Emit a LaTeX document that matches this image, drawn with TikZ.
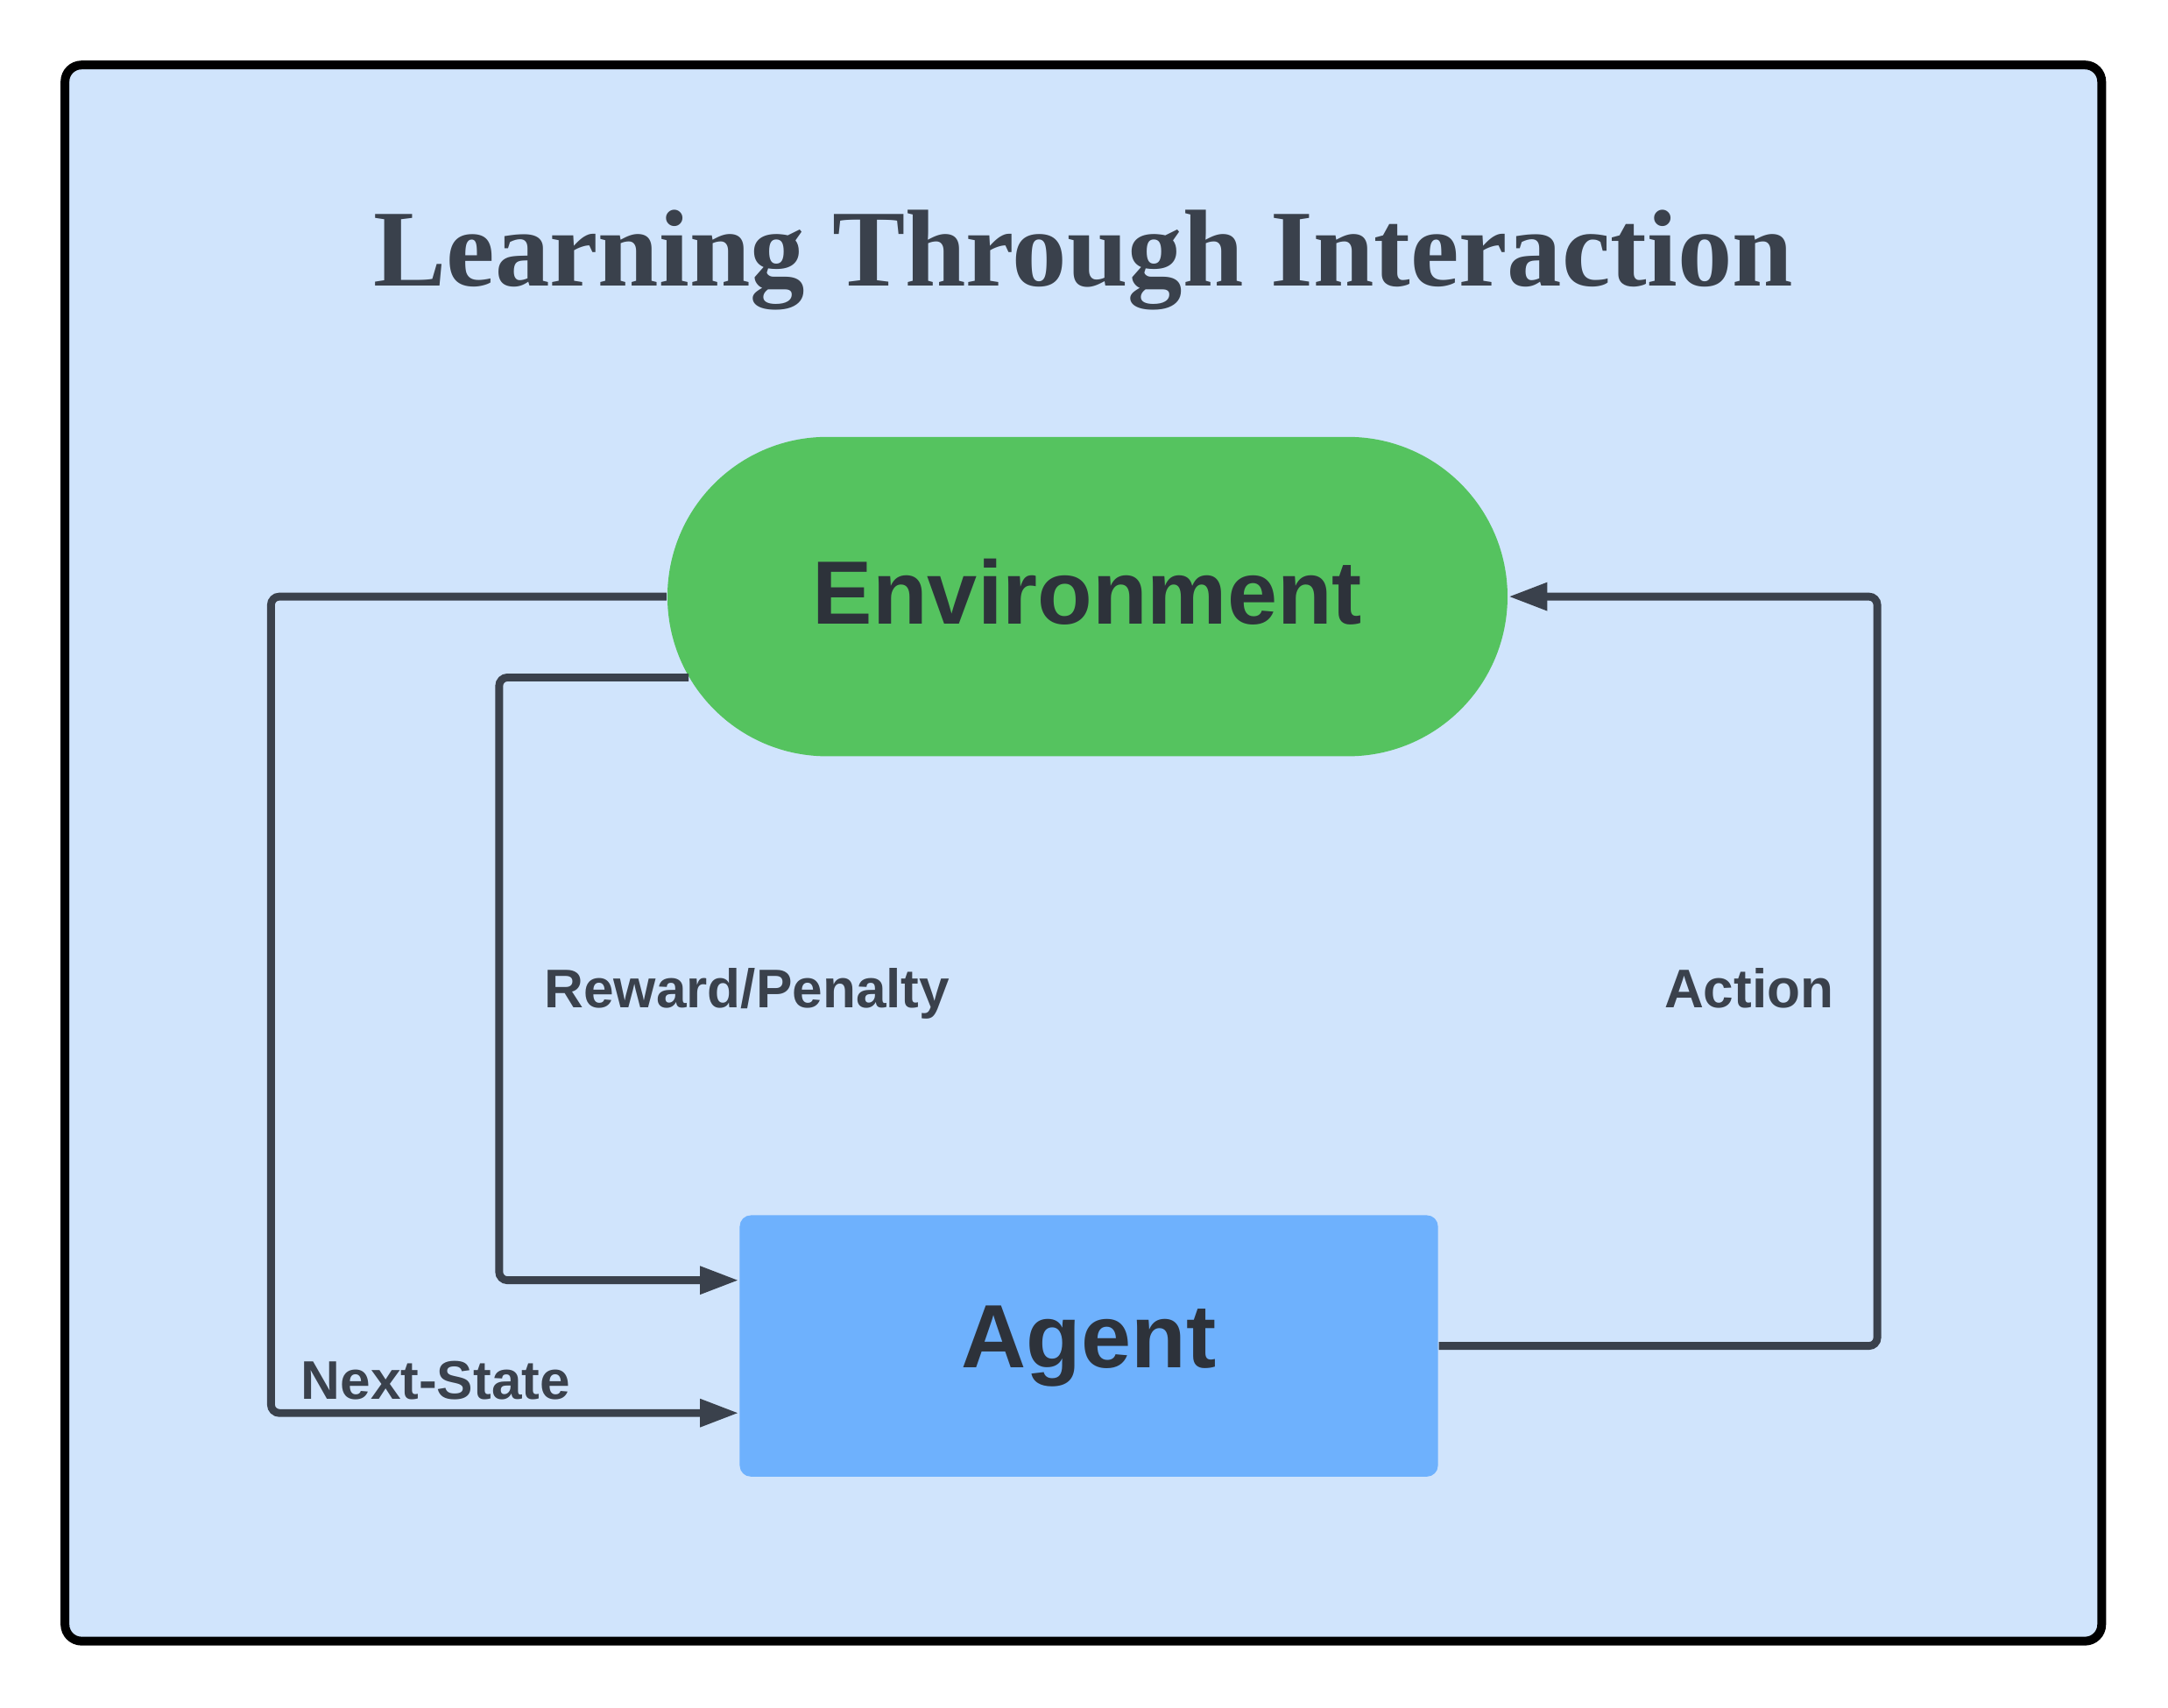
\documentclass[tikz,border=0pt]{standalone}
\usepackage{fontspec}
\setmainfont{Liberation Serif}
\setsansfont{Liberation Sans}
\usepackage{tikz}
\usetikzlibrary{arrows.meta,shapes.misc}
\definecolor{framebg}{HTML}{D0E4FC}
\definecolor{envgreen}{HTML}{55C35F}
\definecolor{agentblue}{HTML}{6EB1FD}
\definecolor{linegray}{HTML}{3A414C}
\definecolor{textgray}{HTML}{2D323A}

\begin{document}
\begin{tikzpicture}[>={Triangle[length=2.8mm,width=1.9mm]},
  flow/.style={->,draw=linegray,line width=1.6pt,rounded corners=0.6mm},
  env node/.style={rounded rectangle,fill=envgreen,minimum width=6.31cm,minimum height=2.31cm,
    text=textgray,font=\sffamily\bfseries\fontsize{18.5}{22}\selectfont},
  agent node/.style={rectangle,rounded corners=0.8mm,fill=agentblue,minimum width=5.05cm,minimum height=1.89cm,
    text=textgray,font=\sffamily\bfseries\fontsize{18.5}{22}\selectfont},
  edge label/.style={anchor=base west,inner sep=0pt,text=linegray,font=\sffamily\bfseries\fontsize{11.2}{13}\selectfont}]

  \useasboundingbox (0,0) rectangle (15.68,-12.35);
  \draw[line width=1.8pt,fill=framebg,rounded corners=1.2mm] (0.47,-0.47) rectangle (15.20,-11.87);

  \node[anchor=base,text=linegray,font=\bfseries\fontsize{22.5}{27}\selectfont] (title) at (7.835,-2.07) {Learning Through Interaction};

  \node[env node] (env) at (7.865,-4.315) {\raisebox{0.7mm}{Environment}};
  \node[agent node] (agent) at (7.875,-9.735) {\raisebox{0.6mm}{Agent}};

  % loops between the two
  \draw[flow] (env.west) -- ++(-2.86,0) |- ([yshift=-4.85mm]agent.west);
  \draw[flow] ([xshift=1.6mm,yshift=-5.85mm]env.west) -- ++(-1.37,0) |- ([yshift=4.75mm]agent.west);
  \draw[flow] (agent.east) -- ++(3.17,0) |- (env.east);

  \node[edge label] (reward) at (3.93,-7.29) {Reward/Penalty};
  \node[edge label] (action) at (12.03,-7.29) {Action};
  \node[edge label] (next) at (2.17,-10.12) {Next-State};
\end{tikzpicture}
\end{document}
